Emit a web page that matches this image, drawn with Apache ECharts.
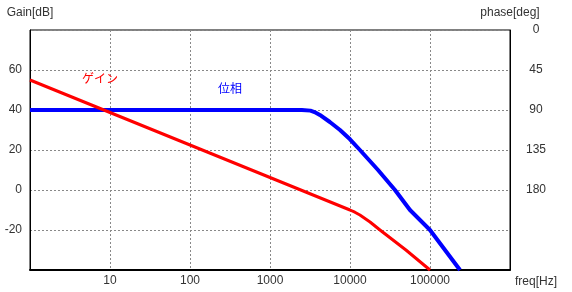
<!DOCTYPE html>
<html>
<head>
<meta charset="utf-8">
<script src="https://cdn.jsdelivr.net/npm/echarts@6/dist/echarts.min.js"></script>
<style>html,body{margin:0;padding:0;background:#fff;}#c{width:572px;height:292px;}</style>
</head>
<body>
<div id="c"></div>
<script>
// Gain (dB) vs frequency (Hz)
const gainFreq = [1, 10, 100, 1000, 10000, 11500, 13300, 17800, 23700, 50000, 100000];
const gainVal  = [55, 38.75, 22.5, 6.25, -10, -11.1, -12.5, -16, -20, -30, -40];
// Phase (deg) vs frequency (Hz)
const phaseFreq = [1, 1000, 2500, 3200, 3600, 4200, 5600, 7500, 10000, 13300, 22400, 36500, 56200, 100000, 237000];
const phaseVal  = [90, 90, 90, 90.7, 92.3, 95.6, 103.5, 112.5, 123, 135, 157.5, 180, 202.5, 225, 270];
// Axis tick labels shown
const freqTicks = [10, 100, 1000, 10000, 100000];
const gainTicks = [-20, 0, 20, 40, 60];
const phaseTicks = [0, 45, 90, 135, 180];
// Annotation labels
const gainLabel = {text: 'ゲイン', freq: 7.5, value: 55};
const phaseLabel = {text: '位相', freq: 316, value: 67.5};

const FONT = '"Liberation Sans", Arial, "Noto Sans CJK JP", sans-serif';
const chart = echarts.init(document.getElementById('c'), null, {renderer: 'canvas'});
const pair = (xs, ys) => xs.map((x, i) => [x, ys[i]]);

chart.setOption({
  animation: false,
  backgroundColor: '#fff',
  textStyle: {fontFamily: FONT},
  grid: {left: 30, right: 62, top: 30, bottom: 22, show: true, borderColor: '#000', borderWidth: 1, backgroundColor: 'transparent'},
  xAxis: {
    type: 'log', logBase: 10, min: 1, max: 1000000,
    name: 'freq[Hz]', nameLocation: 'end', nameGap: 5,
    nameTextStyle: {color: '#333', fontSize: 12, fontFamily: FONT, verticalAlign: 'top', padding: [6, 0, 0, 0]},
    axisLine: {show: true, onZero: false, lineStyle: {color: '#000', width: 2}},
    axisTick: {show: false},
    axisLabel: {color: '#333', fontSize: 12, fontFamily: FONT, margin: 5,
      formatter: v => freqTicks.some(t => Math.abs(t - v) / t < 1e-6) ? String(Math.round(v)) : ''},
    splitLine: {show: true, lineStyle: {color: '#888', type: [2, 2], width: 1}}
  },
  yAxis: [{
    type: 'value', min: -40, max: 80, interval: 20, position: 'left',
    name: 'Gain[dB]', nameLocation: 'end', nameGap: 11,
    nameTextStyle: {color: '#333', fontSize: 12, fontFamily: FONT, align: 'center'},
    axisLine: {show: true, onZero: false, lineStyle: {color: '#000', width: 1}},
    axisTick: {show: false},
    axisLabel: {color: '#333', fontSize: 12, fontFamily: FONT, margin: 8,
      formatter: v => gainTicks.includes(v) ? String(v) : ''},
    splitLine: {show: true, lineStyle: {color: '#888', type: [2, 2], width: 1}}
  }, {
    type: 'value', min: 0, max: 270, interval: 45, position: 'right', inverse: true,
    name: 'phase[deg]', nameLocation: 'start', nameGap: 11,
    nameTextStyle: {color: '#333', fontSize: 12, fontFamily: FONT, align: 'center', verticalAlign: 'bottom'},
    axisLine: {show: true, onZero: false, lineStyle: {color: '#000', width: 1}},
    axisTick: {show: false},
    axisLabel: {color: '#333', fontSize: 12, fontFamily: FONT, margin: 26, align: 'center',
      formatter: v => phaseTicks.includes(v) ? String(v) : ''},
    splitLine: {show: false}
  }],
  series: [{
    name: 'phase', type: 'line', yAxisIndex: 1, showSymbol: false, symbol: 'none',
    lineStyle: {color: '#0000ff', width: 4, join: 'round'}, itemStyle: {color: '#0000ff'},
    data: pair(phaseFreq, phaseVal),
    markPoint: {symbol: 'circle', symbolSize: 0, silent: true,
      label: {show: true, position: 'inside', color: '#0000ff', fontSize: 12, fontFamily: FONT, formatter: phaseLabel.text},
      data: [{coord: [phaseLabel.freq, phaseLabel.value], value: 0}]}
  }, {
    name: 'gain', type: 'line', yAxisIndex: 0, showSymbol: false, symbol: 'none',
    lineStyle: {color: '#ff0000', width: 3, join: 'round'}, itemStyle: {color: '#ff0000'},
    data: pair(gainFreq, gainVal),
    markPoint: {symbol: 'circle', symbolSize: 0, silent: true,
      label: {show: true, position: 'inside', color: '#ff0000', fontSize: 12, fontFamily: FONT, formatter: gainLabel.text},
      data: [{coord: [gainLabel.freq, gainLabel.value], value: 0}]}
  }]
});
</script>
</body>
</html>
